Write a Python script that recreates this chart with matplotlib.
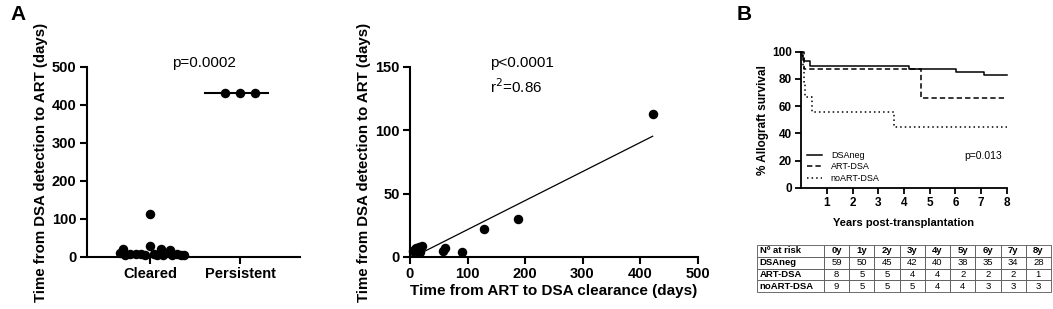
import matplotlib
matplotlib.use("Agg")
import matplotlib.pyplot as plt
import numpy as np

plt.rcParams['font.family'] = ['Liberation Sans', 'DejaVu Sans']

# ---------------- data ----------------
groups = ["Cleared", "Persistent"]
cleared_vals = [113, 30, 22, 21, 18, 10, 9, 8, 8, 7, 7, 6, 6, 5, 5, 5, 4, 4]
cleared_offsets = [0.0, 0.0, -0.3, 0.12, 0.22, -0.33, -0.22, -0.1, 0.05, 0.3, -0.15, 0.15, 0.35, -0.28, -0.05, 0.25, 0.08, 0.38]
persistent_vals = [432, 432, 432]
persistent_offsets = [-0.17, 0.0, 0.17]
persistent_median = 432

clear_time = [5, 8, 10, 12, 15, 18, 20, 57, 60, 90, 128, 188, 422]
detect_time = [5, 6, 7, 5, 8, 4, 9, 5, 7, 4, 22, 30, 113]
fit_slope, fit_intercept = 0.229, -1.3
fit_range = [17, 422]

km_dsaneg_t = [0, 0.02, 0.05, 0.08, 0.12, 0.35, 4.18, 6.03, 7.09, 8]
km_dsaneg_s = [100, 98.3, 96.6, 94.9, 93.2, 89.8, 87.5, 85.1, 82.6, 82.6]
km_art_t = [0, 0.1, 4.66, 8]
km_art_s = [100, 87.5, 65.6, 65.6]
km_noart_t = [0, 0.08, 0.12, 0.16, 0.42, 3.6, 8]
km_noart_s = [100, 88.9, 77.8, 66.7, 55.6, 44.4, 44.4]

table_cols = ["Nº at risk", "0y", "1y", "2y", "3y", "4y", "5y", "6y", "7y", "8y"]
table_rows = ["DSAneg", "ART-DSA", "noART-DSA"]
table_vals = [[59, 50, 45, 42, 40, 38, 35, 34, 28],
              [8, 5, 5, 4, 4, 2, 2, 2, 1],
              [9, 5, 5, 5, 4, 4, 3, 3, 3]]

# ---------------- figure ----------------
W, H = 1053, 309
fig = plt.figure(figsize=(W / 100, H / 100), dpi=100)

def px_axes(x0, x1, ytop, ybot):
    return fig.add_axes([x0 / W, 1 - ybot / H, (x1 - x0) / W, (ybot - ytop) / H])

def style(ax, lw=1.5, fs=10, tl=5.0):
    for s in ['top', 'right']:
        ax.spines[s].set_visible(False)
    for s in ['left', 'bottom']:
        ax.spines[s].set_linewidth(lw)
    ax.tick_params(width=lw, length=tl, labelsize=fs, direction='out', pad=2.5)
    for lab in ax.get_xticklabels() + ax.get_yticklabels():
        lab.set_fontweight('bold')

# Panel A left
ax1 = px_axes(87, 300, 67, 257)
xc = [0 + o for o in cleared_offsets]
ax1.scatter(xc, cleared_vals, s=34, color='black', zorder=3, clip_on=False)
xp = [1 + o for o in persistent_offsets]
ax1.scatter(xp, persistent_vals, s=34, color='black', zorder=3, clip_on=False)
ax1.plot([1 - 0.39, 1 + 0.31], [persistent_median] * 2, color='black', lw=1.5)
ax1.set_xlim(-0.70, 1.667)
ax1.set_ylim(0, 500)
ax1.set_yticks([0, 100, 200, 300, 400, 500])
ax1.set_xticks([0, 1])
ax1.set_xticklabels(groups)
style(ax1, fs=10.5)
ax1.set_ylabel("Time from DSA detection to ART (days)", fontsize=10.8, fontweight='bold', labelpad=3)
ax1.text((204 - 87) / 213, 1.02, "p=0.0002", transform=ax1.transAxes, ha='center', va='center', fontsize=11)

# Panel A right
ax2 = px_axes(410, 697.5, 67, 257)
ax2.scatter(clear_time, detect_time, s=34, color='black', zorder=3, clip_on=False)
fx = np.array(fit_range, dtype=float)
ax2.plot(fx, fit_slope * fx + fit_intercept, color='black', lw=0.9)
ax2.set_xlim(0, 500)
ax2.set_ylim(0, 150)
ax2.set_xticks([0, 100, 200, 300, 400, 500])
ax2.set_yticks([0, 50, 100, 150])
style(ax2, fs=10.5)
ax2.set_ylabel("Time from DSA detection to ART (days)", fontsize=10.8, fontweight='bold', labelpad=3)
ax2.set_xlabel("Time from ART to DSA clearance (days)", fontsize=11, fontweight='bold', labelpad=2)
ax2.text(0.278, 1.02, "p<0.0001", transform=ax2.transAxes, ha='left', va='center', fontsize=11)
ax2.text(0.278, 0.895, "r$^2$=0.86", transform=ax2.transAxes, ha='left', va='center', fontsize=11)

# Panel B
ax3 = px_axes(801, 1007, 51.7, 187.7)
ax3.step(km_dsaneg_t, km_dsaneg_s, where='post', color='black', lw=1.1, ls='-', label='DSAneg', clip_on=False)
ax3.step(km_art_t, km_art_s, where='post', color='black', lw=1.1, ls=(0, (3.5, 2)), label='ART-DSA', clip_on=False)
ax3.step(km_noart_t, km_noart_s, where='post', color='black', lw=1.1, ls=(0, (1, 2)), label='noART-DSA', clip_on=False)
ax3.set_xlim(0, 8)
ax3.set_ylim(0, 100)
ax3.set_xticks([1, 2, 3, 4, 5, 6, 7, 8])
ax3.set_yticks([0, 20, 40, 60, 80, 100])
style(ax3, lw=1.3, fs=8.5, tl=4)
ax3.set_ylabel("% Allograft survival", fontsize=8.5, fontweight='bold', labelpad=2)
ax3.set_xlabel("Years post-transplantation", fontsize=8, fontweight='bold', labelpad=7)
leg = ax3.legend(loc='lower left', bbox_to_anchor=(0.0, -0.01), frameon=False, fontsize=6.5,
                 handlelength=1.6, handletextpad=1.0, labelspacing=0.25, borderaxespad=0.3)
ax3.text(0.976, 0.233, "p=0.013", transform=ax3.transAxes, ha='right', va='center', fontsize=7.5)

# Table
axt = px_axes(757, 1051, 245, 292)
axt.axis('off')
cell_text = [table_cols] + [[r] + [str(v) for v in vals] for r, vals in zip(table_rows, table_vals)]
first_w = 67
other_w = (1051 - 757 - first_w) / 9
col_w = [first_w] + [other_w] * 9
tot = sum(col_w)
tbl = axt.table(cellText=cell_text, colWidths=[c / tot for c in col_w], bbox=[0, 0, 1, 1], cellLoc='center')
tbl.auto_set_font_size(False)
for (r, c), cell in tbl.get_celld().items():
    cell.set_linewidth(0.6)
    cell.set_edgecolor('#555555')
    cell.set_fontsize(6.8)
    cell.PAD = 0.04
    if c == 0:
        cell.set_text_props(ha='left', fontweight='bold')
        cell._loc = 'left'
    if r == 0:
        cell.set_text_props(fontweight='bold')

# Panel letters
fig.text(10 / W, 1 - 14 / H, "A", fontsize=15, fontweight='bold', va='center', ha='left')
fig.text(737 / W, 1 - 15 / H, "B", fontsize=15, fontweight='bold', va='center', ha='left')

fig.savefig("out.png", dpi=100)
